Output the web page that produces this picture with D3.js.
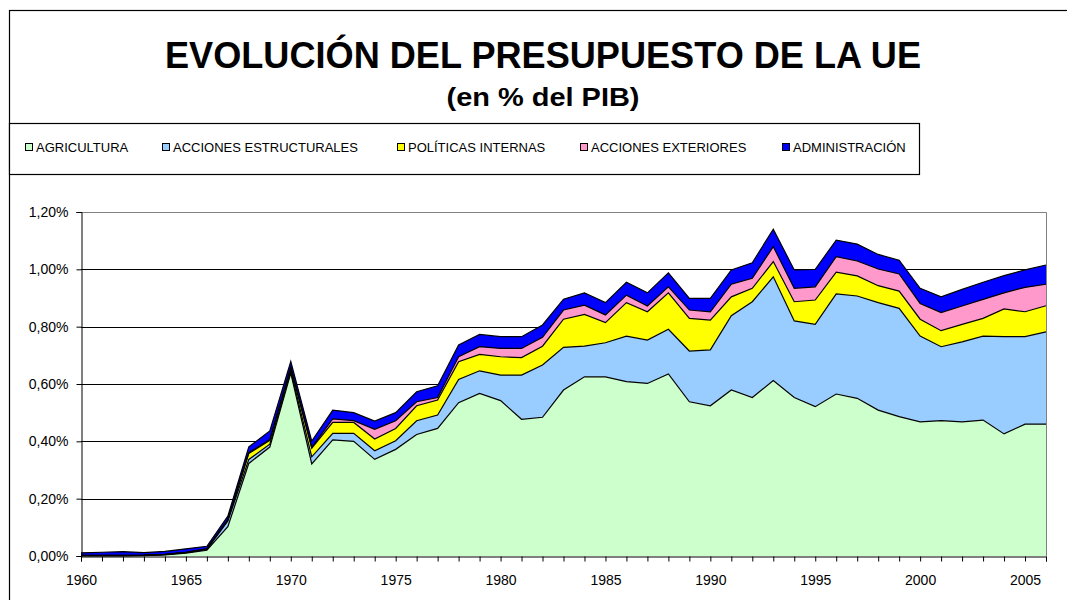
<!DOCTYPE html>
<html>
<head>
<meta charset="utf-8">
<script src="https://cdn.jsdelivr.net/npm/d3@7"></script>
<style>
  body { margin: 0; background: #fff; }
  text { font-family: "Liberation Sans", Arial, sans-serif; }
</style>
</head>
<body>
<div id="chart"></div>
<script>
// values in % of GDP
var years = d3.range(1960, 2007);
var agricultura = [0, 0, 0, 0.001, 0.004, 0.010, 0.020,
  0.102, 0.323, 0.38, 0.638, 0.321, 0.405, 0.40, 0.337, 0.372, 0.424, 0.445, 0.535, 0.567,
  0.542, 0.477, 0.484, 0.579, 0.625, 0.625, 0.608, 0.602, 0.635, 0.538, 0.524, 0.579,
  0.553, 0.612, 0.553, 0.521, 0.565, 0.55, 0.509, 0.486, 0.468, 0.472, 0.468, 0.474,
  0.426, 0.46, 0.46];
var estructurales = [0.001, 0.001, 0.001, 0.001, 0.001, 0.002, 0.003,
  0.02, 0.014, 0.01, 0.008, 0.025, 0.023, 0.028, 0.03, 0.03, 0.048, 0.047, 0.081, 0.079,
  0.089, 0.154, 0.182, 0.149, 0.107, 0.119, 0.159, 0.151, 0.156, 0.177, 0.195, 0.259,
  0.334, 0.362, 0.267, 0.287, 0.349, 0.357, 0.375, 0.378, 0.299, 0.258, 0.279, 0.293,
  0.339, 0.305, 0.322];
var internas = [0.001, 0.001, 0.001, 0.001, 0.001, 0.001, 0.002,
  0.003, 0.021, 0.013, 0.01, 0.03, 0.038, 0.038, 0.041, 0.043, 0.052, 0.052, 0.062, 0.057,
  0.064, 0.061, 0.066, 0.098, 0.111, 0.07, 0.117, 0.099, 0.127, 0.114, 0.104, 0.066,
  0.047, 0.053, 0.067, 0.085, 0.076, 0.07, 0.059, 0.06, 0.059, 0.056, 0.061, 0.062,
  0.097, 0.087, 0.091];
var exteriores = [0, 0, 0, 0, 0, 0, 0,
  0.002, 0.003, 0.003, 0.003, 0.003, 0.012, 0.006, 0.034, 0.027, 0.014, 0.009, 0.017, 0.027,
  0.029, 0.032, 0.031, 0.032, 0.032, 0.027, 0.026, 0.02, 0.021, 0.029, 0.029, 0.044,
  0.035, 0.052, 0.047, 0.046, 0.054, 0.052, 0.058, 0.06, 0.055, 0.063, 0.064, 0.066,
  0.056, 0.085, 0.075];
var administracion = [0.009, 0.011, 0.013, 0.009, 0.010, 0.012, 0.009,
  0.012, 0.02, 0.03, 0.02, 0.022, 0.031, 0.028, 0.029, 0.028, 0.035, 0.041, 0.041, 0.043,
  0.041, 0.041, 0.043, 0.038, 0.043, 0.043, 0.045, 0.046, 0.049, 0.041, 0.047, 0.05,
  0.054, 0.061, 0.064, 0.061, 0.058, 0.059, 0.051, 0.048, 0.053, 0.055, 0.058, 0.06,
  0.06, 0.061, 0.067];

var seriesNames = ["AGRICULTURA", "ACCIONES ESTRUCTURALES", "POLÍTICAS INTERNAS", "ACCIONES EXTERIORES", "ADMINISTRACIÓN"];
var seriesColors = ["#CCFFCC", "#99CCFF", "#FFFF00", "#FF99CC", "#0000FF"];
var yTicks = [0, 0.2, 0.4, 0.6, 0.8, 1.0, 1.2];

var table = years.map(function (yr, i) {
  return {
    year: yr,
    "AGRICULTURA": agricultura[i],
    "ACCIONES ESTRUCTURALES": estructurales[i],
    "POLÍTICAS INTERNAS": internas[i],
    "ACCIONES EXTERIORES": exteriores[i],
    "ADMINISTRACIÓN": administracion[i]
  };
});

var width = 1067, height = 600;
var plot = {left: 81, right: 1046, top: 212, bottom: 556};

var svg = d3.select("#chart")
  .append("svg")
    .attr("width", width)
    .attr("height", height);

// chart frame
svg.append("rect")
  .attr("x", 9.5).attr("y", 10.5)
  .attr("width", 1080).attr("height", 620)
  .attr("fill", "none").attr("stroke", "#000").attr("stroke-width", 1.2);

svg.append("text")
  .attr("x", 543).attr("y", 68)
  .attr("text-anchor", "middle")
  .attr("font-size", 36).attr("font-weight", "bold")
  .attr("textLength", 756).attr("lengthAdjust", "spacingAndGlyphs")
  .text("EVOLUCIÓN DEL PRESUPUESTO DE LA UE");

svg.append("text")
  .attr("x", 543).attr("y", 106)
  .attr("text-anchor", "middle")
  .attr("font-size", 26).attr("font-weight", "bold")
  .attr("textLength", 193).attr("lengthAdjust", "spacingAndGlyphs")
  .text("(en % del PIB)");

// legend
svg.append("rect")
  .attr("x", 9.5).attr("y", 123.5)
  .attr("width", 910).attr("height", 51)
  .attr("fill", "#fff").attr("stroke", "#000").attr("stroke-width", 1.2);

var legendX = [25, 162, 397, 580, 782];
var legend = svg.append("g")
  .selectAll("g")
  .data(seriesNames)
  .enter()
  .append("g")
    .attr("transform", function (d, i) { return "translate(" + legendX[i] + ",0)"; });
legend.append("rect")
  .attr("x", 0.5).attr("y", 143.5)
  .attr("width", 7).attr("height", 7)
  .attr("fill", function (d, i) { return seriesColors[i]; })
  .attr("stroke", "#000").attr("stroke-width", 1);
legend.append("text")
  .attr("x", 11).attr("y", 152)
  .attr("font-size", 13)
  .text(function (d) { return d; });

var xScale = d3.scaleLinear()
  .domain([1960, 2006])
  .range([plot.left, plot.right]);

var yScale = d3.scaleLinear()
  .domain([0, 1.2])
  .range([plot.bottom, plot.top]);

// gridlines
svg.append("g")
  .selectAll("line")
  .data(yTicks.slice(1, -1))
  .enter()
  .append("line")
    .attr("x1", plot.left).attr("x2", plot.right)
    .attr("y1", function (d) { return Math.round(yScale(d)) + 0.5; })
    .attr("y2", function (d) { return Math.round(yScale(d)) + 0.5; })
    .attr("stroke", "#000").attr("stroke-width", 1);

// plot area border (top / right)
svg.append("path")
  .attr("d", "M" + plot.left + "," + (plot.top + 0.5) + "H" + (plot.right + 0.5) + "V" + plot.bottom)
  .attr("fill", "none").attr("stroke", "#808080").attr("stroke-width", 1);

var stack = d3.stack().keys(seriesNames);
var layers = stack(table);

var area = d3.area()
  .x(function (d) { return xScale(d.data.year); })
  .y0(function (d) { return yScale(d[0]); })
  .y1(function (d) { return yScale(d[1]); });

var topLine = d3.line()
  .x(function (d) { return xScale(d.data.year); })
  .y(function (d) { return yScale(d[1]); });

svg.append("g")
  .selectAll("path")
  .data(layers)
  .enter()
  .append("path")
    .attr("d", area)
    .attr("fill", function (d, i) { return seriesColors[i]; });

svg.append("g")
  .selectAll("path")
  .data(layers)
  .enter()
  .append("path")
    .attr("d", topLine)
    .attr("fill", "none")
    .attr("stroke", "#000")
    .attr("stroke-width", 1.2)
    .attr("stroke-linejoin", "miter");

// axes
var yAxis = svg.append("g")
  .attr("transform", "translate(" + (plot.left + 0.5) + ",0)")
  .call(d3.axisLeft(yScale)
    .tickValues(yTicks)
    .tickSize(5)
    .tickPadding(8)
    .tickFormat(function (d) { return d3.format(".2f")(d).replace(".", ",") + "%"; }));
yAxis.selectAll("text").attr("font-size", 14).attr("font-family", null).attr("fill", "#000");
yAxis.selectAll("line, path").attr("stroke", "#000");

var xAxis = svg.append("g")
  .attr("transform", "translate(0," + (plot.bottom + 0.5) + ")")
  .call(d3.axisBottom(xScale)
    .tickValues(years)
    .tickSize(5)
    .tickPadding(14)
    .tickFormat(function (d) { return d % 5 === 0 ? d : ""; }));
xAxis.selectAll("text").attr("font-size", 14).attr("font-family", null).attr("fill", "#000");
xAxis.selectAll("line, path").attr("stroke", "#000");
</script>
</body>
</html>
